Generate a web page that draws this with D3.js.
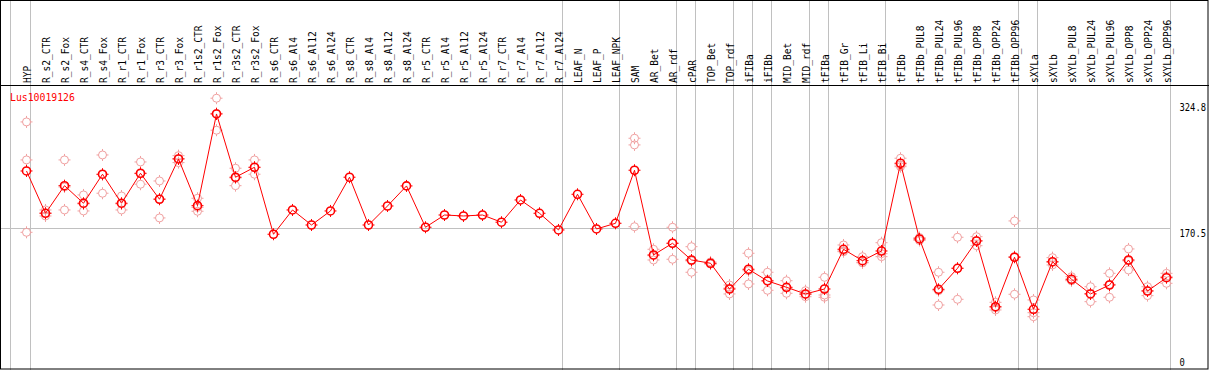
<!DOCTYPE html>
<html>
<head>
<meta charset="utf-8">
<script src="https://cdn.jsdelivr.net/npm/d3@7"></script>
<style>
  body { margin: 0; background: #fff; }
  svg { display: block; }
  text { font-family: "DejaVu Sans Mono", monospace; font-size: 11px; }
</style>
</head>
<body>
<div id="chart"></div>
<script>
var geneName = "Lus10019126";

var categories = ["HYP", "R_s2_CTR", "R_s2_Fox", "R_s4_CTR", "R_s4_Fox", "R_r1_CTR", "R_r1_Fox",
  "R_r3_CTR", "R_r3_Fox", "R_r1s2_CTR", "R_r1s2_Fox", "R_r3s2_CTR", "R_r3s2_Fox", "R_s6_CTR",
  "R_s6_Al4", "R_s6_Al12", "R_s6_Al24", "R_s8_CTR", "R_s8_Al4", "R_s8_Al12", "R_s8_Al24",
  "R_r5_CTR", "R_r5_Al4", "R_r5_Al12", "R_r5_Al24", "R_r7_CTR", "R_r7_Al4", "R_r7_Al12",
  "R_r7_Al24", "LEAF_N", "LEAF_P", "LEAF_NPK", "SAM", "AR_Bet", "AR_rdf", "cPAR", "TOP_Bet",
  "TOP_rdf", "iFIBa", "iFIBb", "MID_Bet", "MID_rdf", "tFIBa", "tFIB_Gr", "tFIB_Li", "tFIB_Bi",
  "tFIBb", "tFIBb_PUL8", "tFIBb_PUL24", "tFIBb_PUL96", "tFIBb_OPP8", "tFIBb_OPP24",
  "tFIBb_OPP96", "sXYLa", "sXYLb", "sXYLb_PUL8", "sXYLb_PUL24", "sXYLb_PUL96", "sXYLb_OPP8",
  "sXYLb_OPP24", "sXYLb_OPP96"];

// mean expression (red line)
var meanValues = [241.1, 189.0, 223.0, 201.4, 237.1, 201.4, 238.3, 206.3, 255.9, 198.4, 311.3,
  233.4, 245.7, 163.2, 193.1, 174.6, 191.9, 233.4, 174.6, 198.0, 222.7, 171.8, 186.9, 185.7,
  186.9, 178.0, 205.4, 189.0, 168.5, 212.4, 169.7, 176.7, 242.0, 137.7, 152.1, 131.5, 127.5,
  95.8, 120.1, 105.7, 97.9, 89.7, 95.8, 144.7, 130.7, 142.6, 250.6, 157.4, 95.4, 121.3, 154.9,
  74.0, 134.9, 70.8, 129.4, 107.8, 89.7, 100.7, 131.5, 93.3, 109.7];

// individual replicates (faded circles), null where not shown
var rep1 = [301.5, 193.1, 254.7, 211.6, 260.8, 210.3, 252.2, 228.8, 260.0, 207.5, 330.7, 244.5,
  254.7, null, null, null, null, null, null, null, null, null, null, null, null, null, null, null,
  null, null, null, null, 281.4, 144.7, 171.8, 147.9, 129.1, 100.7, 139.8, 116.4, 106.0, 93.7,
  110.2, 150.0, 135.6, 152.8, 256.8, 159.2, 116.4, 159.5, 160.2, 79.4, 179.6, 82.3, 134.4,
  111.0, 98.6, 115.1, 145.1, 98.6, 115.1];
var rep2 = [254.7, 189.4, 193.1, 191.9, 213.7, 193.1, 224.8, 183.3, 251.4, 191.5, 291.3, 223.0,
  237.1, null, null, null, null, null, null, null, null, null, null, null, null, null, null, null,
  null, null, null, null, 273.2, 131.5, 132.4, 116.4, 126.6, 89.7, 102.0, 94.2, 90.5, 86.3,
  88.4, 141.7, 128.2, 135.6, 246.4, 157.4, 76.1, 83.1, 149.1, 70.0, 89.3, 61.7, 125.4,
  106.0, 80.2, 85.6, 119.2, 87.6, 102.8];
var rep3 = [165.6, 185.7, 221.4, 200.5, 236.7, 200.5, 237.8, 206.7, 256.4, 196.3, 312.1, 232.5,
  245.3, null, null, null, null, null, null, null, null, null, null, null, null, null, null, null,
  null, null, null, null, 172.5, 136.8, 152.1, 130.3, 126.6, 97.0, 118.3, 106.4, 97.0, 88.9,
  85.6, 142.6, 128.2, 139.3, 248.5, 155.5, 93.7, 121.3, 155.4, 72.7, 135.7, 66.6, 128.6,
  106.2, 90.1, 101.5, 130.3, 93.8, 111.3];

// a grey separator is drawn after each of these groups
var groupEnds = ["HYP", "R_r7_Al24", "LEAF_NPK", "AR_rdf", "cPAR", "TOP_rdf", "iFIBa", "iFIBb",
  "MID_rdf", "tFIBa", "tFIB_Bi", "tFIBb_OPP96", "sXYLa", "sXYLb_OPP96"];

var axisTicks = [324.8, 170.5, 0];
var gridValues = [170.5];

var width = 1209, height = 370;
var headerBottom = 85.5;

var svg = d3.select("#chart").append("svg")
  .attr("width", width)
  .attr("height", height);

var x = d3.scalePoint()
  .domain(categories)
  .range([26.5, 1166.5]);

var y = d3.scaleLinear()
  .domain([0, 324.8])
  .range([366.8, 103]);

var lastSep = x(groupEnds[groupEnds.length - 1]) + 4;

// vertical separators
svg.append("line")
  .attr("x1", 10.5).attr("x2", 10.5)
  .attr("y1", 0).attr("y2", height)
  .attr("stroke", "#c0c0c0");
svg.selectAll("line.sep")
  .data(groupEnds)
  .enter().append("line")
  .attr("class", "sep")
  .attr("x1", function (d) { return x(d) + 4; })
  .attr("x2", function (d) { return x(d) + 4; })
  .attr("y1", 0).attr("y2", height)
  .attr("stroke", "#c0c0c0");

// horizontal grid
svg.selectAll("line.hgrid")
  .data(gridValues)
  .enter().append("line")
  .attr("class", "hgrid")
  .attr("x1", 0).attr("x2", lastSep)
  .attr("y1", function (d) { return Math.round(y(d)) + 0.5; })
  .attr("y2", function (d) { return Math.round(y(d)) + 0.5; })
  .attr("stroke", "#c0c0c0");

// frame and header rule
svg.append("rect")
  .attr("x", 0.5).attr("y", 0.5)
  .attr("width", 1207.5).attr("height", 368.5)
  .attr("fill", "none")
  .attr("stroke", "#000");
svg.append("line")
  .attr("x1", 0).attr("x2", width)
  .attr("y1", headerBottom).attr("y2", headerBottom)
  .attr("stroke", "#000");

// rotated category labels
svg.selectAll("text.cat")
  .data(categories)
  .enter().append("text")
  .attr("class", "cat")
  .attr("transform", function (d) { return "translate(" + (x(d) + 4) + ",83) rotate(-90)"; })
  .attr("textLength", function (d) { return d.length * 5.75; })
  .attr("lengthAdjust", "spacingAndGlyphs")
  .attr("fill", "#000")
  .text(function (d) { return d; });

// right value labels (squeezed horizontally to fit the narrow margin)
svg.selectAll("text.val")
  .data(axisTicks)
  .enter().append("text")
  .attr("class", "val")
  .attr("transform", function (d) {
    return "translate(1179.5," + Math.min(y(d) + 8.3, 366) + ") scale(0.8,1)";
  })
  .attr("fill", "#000")
  .text(function (d) { return d; });

// gene name
svg.append("text")
  .attr("x", 10)
  .attr("y", 100.6)
  .attr("textLength", geneName.length * 5.9)
  .attr("lengthAdjust", "spacingAndGlyphs")
  .attr("fill", "#ff0000")
  .text(geneName);

var marker = function (g, cx, cy, color, sw) {
  g.append("circle")
    .attr("cx", cx).attr("cy", cy).attr("r", 4)
    .attr("fill", "none")
    .attr("stroke", color)
    .attr("stroke-width", sw);
  var t = "M" + cx + "," + (cy - 6) + "V" + (cy - 4) +
    "M" + cx + "," + (cy + 4) + "V" + (cy + 6) +
    "M" + (cx - 6) + "," + cy + "H" + (cx - 4) +
    "M" + (cx + 4) + "," + cy + "H" + (cx + 6);
  g.append("path").attr("d", t).attr("stroke", color).attr("stroke-width", 1);
};

// replicate circles
var repLayer = svg.append("g");
[rep1, rep2, rep3].forEach(function (rep) {
  rep.forEach(function (v, i) {
    if (v === null) return;
    marker(repLayer, x(categories[i]), y(v), "#f0a0a0", 1);
  });
});

// mean line
var line = d3.line()
  .x(function (d, i) { return x(categories[i]); })
  .y(function (d) { return y(d); });
svg.append("path")
  .datum(meanValues)
  .attr("d", line)
  .attr("fill", "none")
  .attr("stroke", "#ff0000")
  .attr("stroke-width", 1);

var meanLayer = svg.append("g");
meanValues.forEach(function (v, i) {
  marker(meanLayer, x(categories[i]), y(v), "#ff0000", 1.6);
});
</script>
</body>
</html>
